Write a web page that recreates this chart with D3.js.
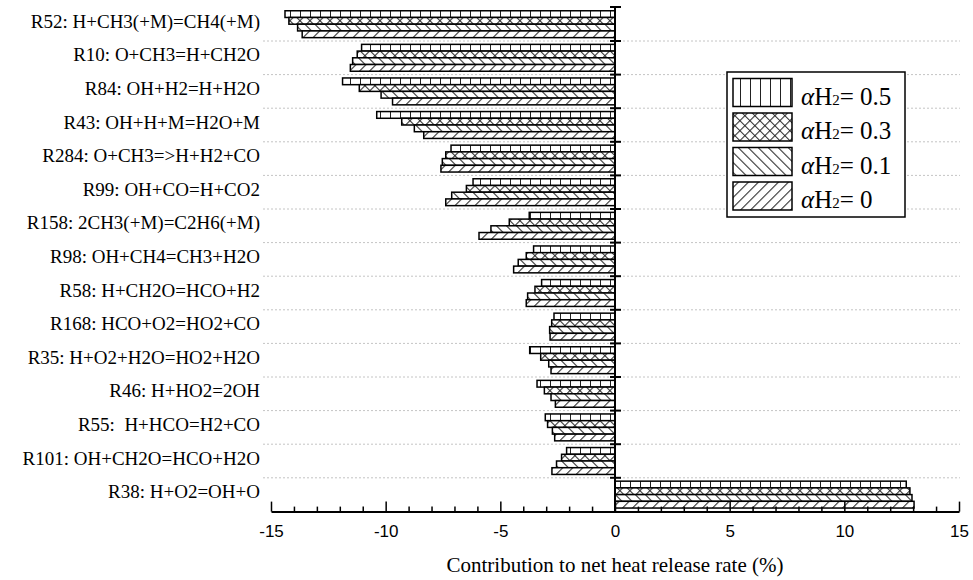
<!DOCTYPE html>
<html><head><meta charset="utf-8">
<script src="https://cdn.jsdelivr.net/npm/d3@7"></script>
<style>
html,body{margin:0;padding:0;background:#fff;}
svg{display:block;}
</style></head>
<body>
<svg id="chart" width="973" height="580"></svg>
<script>
const categories = [
  "R52: H+CH3(+M)=CH4(+M)",
  "R10: O+CH3=H+CH2O",
  "R84: OH+H2=H+H2O",
  "R43: OH+H+M=H2O+M",
  "R284: O+CH3=>H+H2+CO",
  "R99: OH+CO=H+CO2",
  "R158: 2CH3(+M)=C2H6(+M)",
  "R98: OH+CH4=CH3+H2O",
  "R58: H+CH2O=HCO+H2",
  "R168: HCO+O2=HO2+CO",
  "R35: H+O2+H2O=HO2+H2O",
  "R46: H+HO2=2OH",
  "R55:  H+HCO=H2+CO",
  "R101: OH+CH2O=HCO+H2O",
  "R38: H+O2=OH+O"
];
const seriesNames = ["0.5", "0.3", "0.1", "0"];
const valuesA05 = [-14.39, -11.05, -11.88, -10.39, -7.15, -6.19, -3.74, -3.55, -3.20, -2.66, -3.72, -3.40, -3.04, -2.11, 12.70];
const valuesA03 = [-14.22, -11.24, -11.15, -9.30, -7.38, -6.48, -4.61, -3.87, -3.49, -2.76, -3.24, -3.08, -2.94, -2.33, 12.86];
const valuesA01 = [-13.84, -11.44, -10.20, -8.75, -7.53, -7.12, -5.41, -4.22, -3.81, -2.85, -2.89, -2.79, -2.73, -2.55, 12.95];
const valuesA00 = [-13.64, -11.54, -9.70, -8.34, -7.59, -7.38, -5.93, -4.42, -3.87, -2.83, -2.79, -2.60, -2.63, -2.75, 13.04];
const xTicks = [-15, -10, -5, 0, 5, 10, 15];
const xTitle = "Contribution to net heat release rate (%)";

const allValues = [valuesA05, valuesA03, valuesA01, valuesA00];
const patternIds = ["pat-vert", "pat-cross", "pat-back", "pat-fwd"];

const svg = d3.select("#chart");
const defs = svg.append("defs");

function mkPattern(id, w, transform, lines) {
  const p = defs.append("pattern").attr("id", id)
    .attr("patternUnits", "userSpaceOnUse")
    .attr("width", w).attr("height", w);
  if (transform) p.attr("patternTransform", transform);
  p.append("rect").attr("width", w).attr("height", w).attr("fill", "#fff");
  lines.forEach(l => p.append("line")
    .attr("x1", l[0]).attr("y1", l[1]).attr("x2", l[2]).attr("y2", l[3])
    .attr("stroke", "#222").attr("stroke-width", 1));
}
mkPattern("pat-vert", 10, null, [[0.5, 0, 0.5, 10]]);
mkPattern("pat-cross", 7.07, "rotate(45)", [[0.5, 0, 0.5, 7.07], [0, 0.5, 7.07, 0.5]]);
mkPattern("pat-back", 7.07, "rotate(-45)", [[0.5, 0, 0.5, 7.07]]);
mkPattern("pat-fwd", 7.07, "rotate(45)", [[0.5, 0, 0.5, 7.07]]);

const x = d3.scaleLinear().domain([-15, 15]).range([271, 959]);
const y = d3.scaleBand().domain(categories).range([7.4, 511.4]).paddingInner(0.2).paddingOuter(0.1);
const yInner = d3.scaleBand().domain(seriesNames).range([0, y.bandwidth()]);

const step = y.step();
const boundaries = categories.slice(1).map(c => y(c) - step * 0.1);

// gridlines
svg.append("g").selectAll("line").data(boundaries).join("line")
  .attr("x1", 263).attr("x2", 960)
  .attr("y1", d => d).attr("y2", d => d)
  .attr("stroke", "#c4c4c4").attr("stroke-width", 1)
  .attr("stroke-dasharray", "2,2");

// bars
const barData = [];
categories.forEach((c, i) => {
  seriesNames.forEach((s, j) => {
    barData.push({ c, s, v: allValues[j][i], pat: patternIds[j] });
  });
});
svg.append("g").selectAll("rect").data(barData).join("rect")
  .attr("x", d => Math.min(x(0), x(d.v)))
  .attr("width", d => Math.abs(x(d.v) - x(0)))
  .attr("y", d => y(d.c) + yInner(d.s))
  .attr("height", yInner.bandwidth())
  .attr("fill", d => `url(#${d.pat})`)
  .attr("stroke", "#000").attr("stroke-width", 1.5);

// category labels
svg.append("g").selectAll("text").data(categories).join("text")
  .attr("x", 260)
  .attr("y", d => y(d) + y.bandwidth() / 2 - 3)
  .attr("text-anchor", "end")
  .attr("dominant-baseline", "central")
  .style("white-space", "pre")
  .attr("font-family", "'Liberation Serif', 'Times New Roman', serif")
  .attr("font-size", 19)
  .attr("fill", "#000")
  .text(d => d);

// x axis
const axisY = 511.6;
const gx = svg.append("g").attr("transform", `translate(0,${axisY})`);
gx.call(d3.axisBottom(x).tickValues(xTicks).tickSize(-10).tickSizeOuter(0).tickPadding(13)
  .tickFormat(d => String(d)));
gx.select(".domain").attr("stroke-width", 2).attr("stroke", "#000");
gx.selectAll(".tick line").attr("stroke-width", 1.5).attr("stroke", "#000");
gx.selectAll(".tick text").attr("font-family", "'Liberation Sans', Arial, sans-serif")
  .attr("font-size", 17).attr("fill", "#000");
const minorTicks = d3.range(-15, 16, 1).filter(v => v % 5 !== 0);
const gxm = svg.append("g").attr("transform", `translate(0,${axisY})`);
gxm.call(d3.axisBottom(x).tickValues(minorTicks).tickSize(-5).tickSizeOuter(0).tickFormat(""));
gxm.select(".domain").remove();
gxm.selectAll(".tick line").attr("stroke-width", 1.5).attr("stroke", "#000");

// y axis (vertical line at zero)
const gy = svg.append("g");
gy.append("line").attr("x1", x(0)).attr("x2", x(0)).attr("y1", 7).attr("y2", axisY)
  .attr("stroke", "#000").attr("stroke-width", 2);
gy.append("line").attr("x1", x(0) - 5).attr("x2", x(0) + 6).attr("y1", 7).attr("y2", 7)
  .attr("stroke", "#000").attr("stroke-width", 2);
gy.selectAll("line.cat").data(boundaries).join("line").attr("class", "cat")
  .attr("x1", x(0) - 5).attr("x2", x(0) + 6)
  .attr("y1", d => d).attr("y2", d => d)
  .attr("stroke", "#000").attr("stroke-width", 2);

// x title
svg.append("text").attr("x", x(0)).attr("y", 572)
  .attr("text-anchor", "middle")
  .attr("font-family", "'Liberation Serif', 'Times New Roman', serif")
  .attr("font-size", 21).attr("fill", "#000")
  .text(xTitle);

// legend
const lg = svg.append("g");
lg.append("rect").attr("x", 727).attr("y", 72).attr("width", 178).attr("height", 145)
  .attr("fill", "#fff").attr("stroke", "#000").attr("stroke-width", 1.5);
const legRowY = d3.scalePoint().domain(seriesNames).range([78.5, 182]);
seriesNames.forEach((s, j) => {
  const yy = legRowY(s);
  lg.append("rect").attr("x", 733).attr("y", yy).attr("width", 59).attr("height", 28)
    .attr("fill", `url(#${patternIds[j]})`).attr("stroke", "#000").attr("stroke-width", 1.5);
  const t = lg.append("text").attr("x", 801).attr("y", yy + 26)
    .attr("font-family", "'Liberation Serif', 'Times New Roman', serif")
    .attr("font-size", 25).attr("fill", "#000");
  t.append("tspan").attr("font-style", "italic").text("\u03b1");
  t.append("tspan").text("H");
  t.append("tspan").attr("font-size", 15).text("2");
  t.append("tspan").text("= " + s);
});
</script>
</body></html>
